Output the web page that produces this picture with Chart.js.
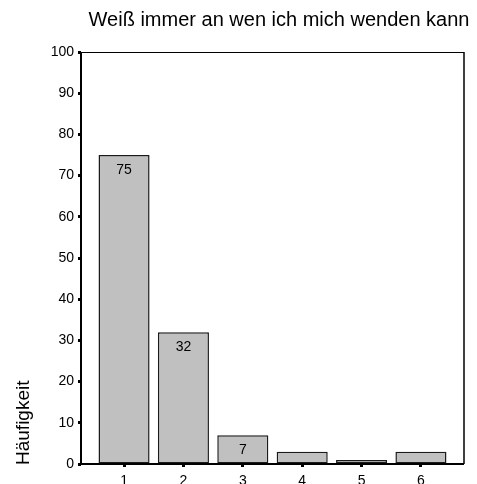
<!DOCTYPE html>
<html lang="de">
<head>
  <meta charset="UTF-8">
  <title>Weiß immer an wen ich mich wenden kann</title>
  <script src="https://cdn.jsdelivr.net/npm/chart.js"></script>
  <style>
    * { margin: 0; padding: 0; box-sizing: border-box; }
    body { background: #fff; width: 477px; height: 484px; overflow: hidden; }
    canvas { display: block; }
  </style>
</head>
<body>
  <canvas id="chart" width="477" height="484"></canvas>
  <script>
    // Antwortkategorien und Häufigkeiten
    var categories = [1, 2, 3, 4, 5, 6];
    var counts = [75, 32, 7, 3, 1, 3];
    var yTicks = [0, 10, 20, 30, 40, 50, 60, 70, 80, 90, 100];
    var chartTitle = 'Weiß immer an wen ich mich wenden kann';
    var yTitle = 'Häufigkeit';

    var FONT = '"Liberation Sans", Arial, sans-serif';

    // Titel, Rahmen, Achsentitel und Werte in den Balken
    var decor = {
      id: 'decor',
      afterDraw: function(chart) {
        var ctx = chart.ctx, a = chart.chartArea;
        ctx.save();
        // Rahmen: links/unten kräftig, oben/rechts dünn
        ctx.strokeStyle = '#000';
        ctx.lineWidth = 1;
        ctx.beginPath();
        ctx.moveTo(a.left, a.top + 0.5); ctx.lineTo(a.right, a.top + 0.5);
        ctx.stroke();
        ctx.lineWidth = 1.5;
        ctx.beginPath();
        ctx.moveTo(a.right, a.top); ctx.lineTo(a.right, a.bottom);
        ctx.stroke();
        ctx.lineWidth = 2;
        ctx.beginPath();
        ctx.moveTo(a.left, a.top); ctx.lineTo(a.left, a.bottom); ctx.lineTo(a.right, a.bottom);
        ctx.stroke();

        // Titel
        ctx.fillStyle = '#000';
        ctx.font = '20px ' + FONT;
        ctx.textAlign = 'center';
        ctx.textBaseline = 'middle';
        ctx.fillText(chartTitle, 279, 20);

        // y-Achsentitel unten links
        ctx.save();
        ctx.translate(29, 465);
        ctx.rotate(-Math.PI / 2);
        ctx.font = '19px ' + FONT;
        ctx.textAlign = 'left';
        ctx.textBaseline = 'alphabetic';
        ctx.fillText(yTitle, 0, 0);
        ctx.restore();

        // Werte in die Balken
        ctx.font = '14px ' + FONT;
        ctx.textAlign = 'center';
        ctx.textBaseline = 'middle';
        var meta = chart.getDatasetMeta(0);
        meta.data.forEach(function(bar, i) {
          var v = counts[i];
          if (v < 5) return;
          ctx.fillText(String(v), bar.x, bar.y + 15);
        });
        ctx.restore();
      }
    };

    new Chart(document.getElementById('chart'), {
      type: 'bar',
      data: {
        datasets: [{
          data: categories.map(function(c, i) { return { x: c, y: counts[i] }; }),
          backgroundColor: '#c0c0c0',
          borderColor: '#1a1a1a',
          borderWidth: 1.5,
          borderSkipped: false,
          barPercentage: 0.86,
          categoryPercentage: 1
        }]
      },
      options: {
        responsive: false,
        animation: false,
        layout: { padding: { left: 0, right: 13, top: 52, bottom: 0 } },
        plugins: { legend: { display: false }, tooltip: { enabled: false }, title: { display: false } },
        scales: {
          x: {
            type: 'linear',
            offset: false,
            min: 0.275,
            max: 6.725,
            afterBuildTicks: function(scale) {
              scale.ticks = categories.map(function(c) { return { value: c }; });
            },
            afterFit: function(scale) { scale.height = 20; },
            border: { display: false },
            grid: { offset: false, drawOnChartArea: false, drawTicks: true, tickLength: 3, tickWidth: 3, color: '#000' },
            ticks: {
              padding: 6,
              maxRotation: 0,
              autoSkip: false,
              color: '#000',
              font: { family: FONT, size: 14 },
              callback: function(v) { return String(v); }
            }
          },
          y: {
            min: 0,
            max: 100,
            afterBuildTicks: function(scale) {
              scale.ticks = yTicks.map(function(v) { return { value: v }; });
            },
            afterFit: function(scale) { scale.width = 81; },
            border: { display: false },
            grid: { drawOnChartArea: false, drawTicks: true, tickLength: 3, tickWidth: 3, color: '#000' },
            ticks: {
              padding: 4,
              color: '#000',
              font: { family: FONT, size: 14 }
            }
          }
        }
      },
      plugins: [decor]
    });
  </script>
</body>
</html>
